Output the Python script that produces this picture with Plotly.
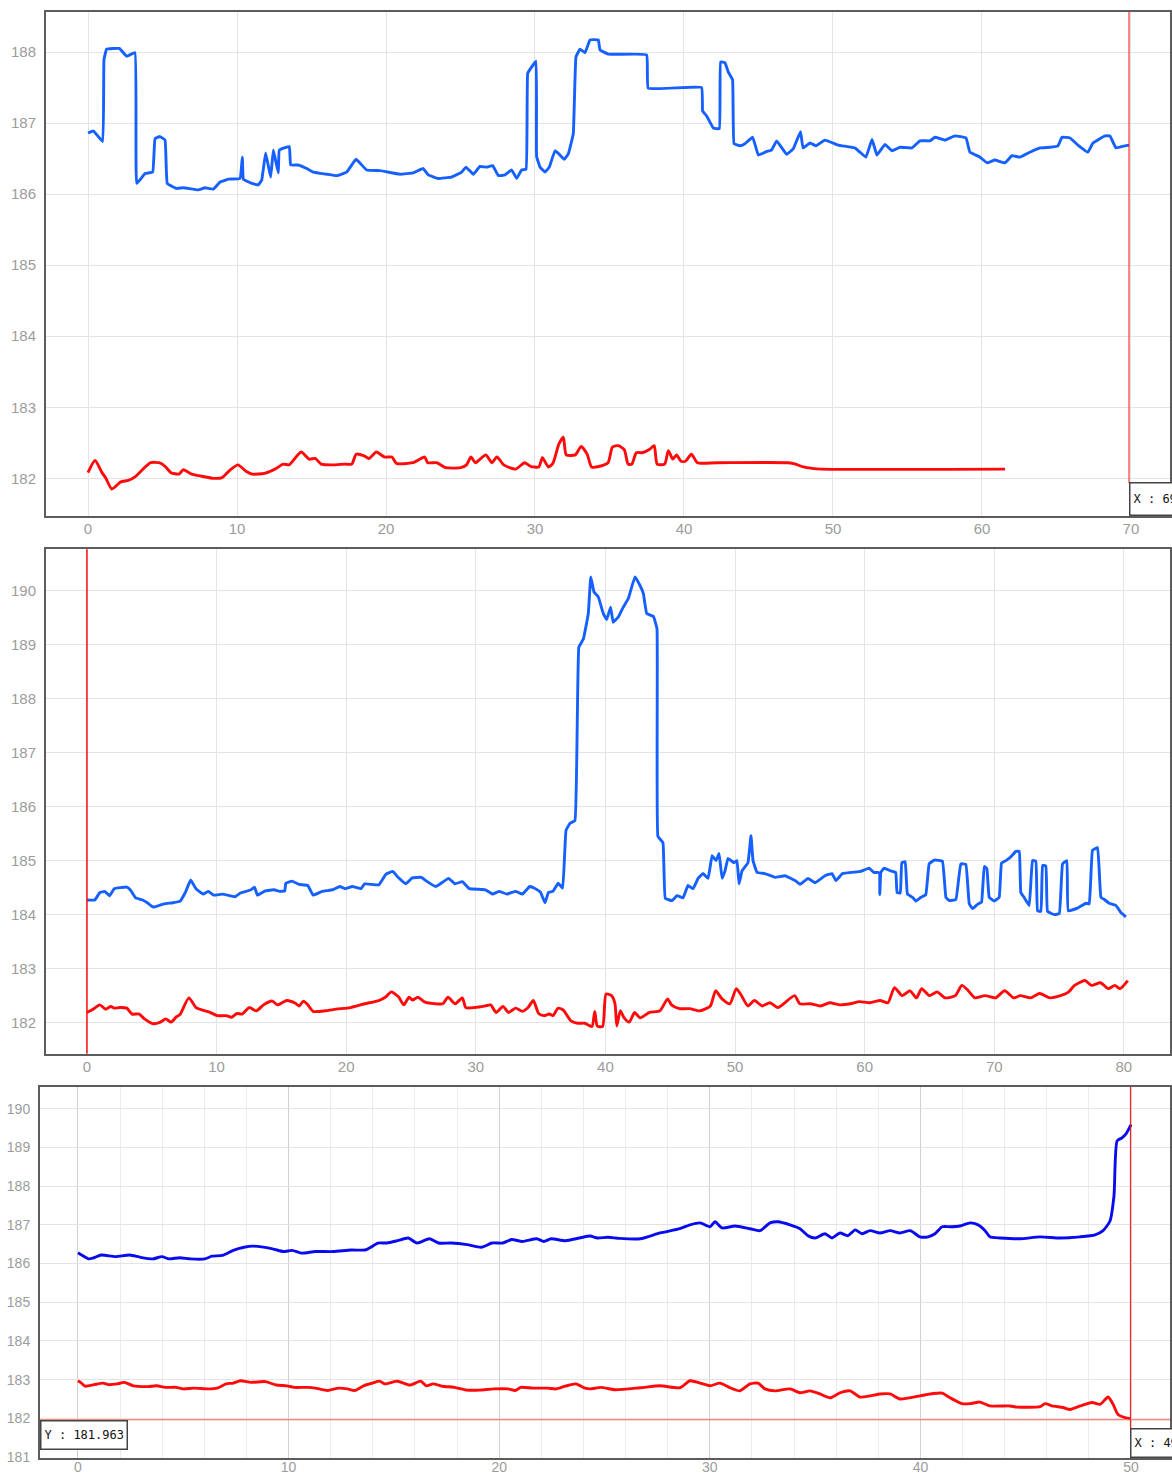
import plotly.graph_objects as go

# ---------------- Panel 1 ----------------
p1_blue_x = [0, 0.36, 0.98, 1.07, 1.25, 2.1, 2.6, 3.15, 3.27, 3.83, 4.34, 4.5, 4.83, 5.17, 5.32, 5.95, 6.4, 7.4, 7.85, 8.41,
             8.86, 9.42, 10.2, 10.36, 10.43, 11.0, 11.43, 11.66, 11.92, 12.26, 12.44, 12.77, 12.84, 13.51, 13.6, 14.1, 14.68,
             15.12, 16.02, 16.69, 17.36, 17.99, 18.7, 19.6, 20.94, 21.83, 22.5, 22.84, 23.5, 24.4, 25.08, 25.37, 25.86, 26.3,
             26.76, 27.16, 27.54, 27.99, 28.43, 28.77, 29.1, 29.4, 29.51, 29.78, 30.07, 30.11, 30.34, 30.67, 30.96, 31.34,
             31.63, 31.97, 32.24, 32.57, 32.75, 33.02, 33.36, 33.69, 34.25, 34.36, 34.92, 37.49, 37.6, 41.18, 41.25, 41.52,
             41.97, 42.37, 42.46, 42.75, 42.97, 43.26, 43.36, 43.76, 44.09, 44.61, 44.99, 45.55, 45.88, 46.22, 46.89, 47.34,
             47.82, 47.99, 48.46, 48.86, 49.46, 50.34, 51.48, 51.81, 52.21, 52.62, 52.95, 53.49, 53.96, 54.5, 55.3, 55.84,
             56.51, 56.85, 57.52, 58.19, 58.93, 59.19, 59.87, 60.34, 60.87, 61.54, 62.01, 62.55, 63.22, 63.89, 64.56, 65.1,
             65.37, 65.91, 66.44, 67.11, 67.45, 68.26, 68.59, 68.99, 69.6, 69.87]
p1_blue_y = [186.86, 186.89, 186.74, 187.89, 188.04, 188.05, 187.94, 187.99, 186.15, 186.29, 186.31, 186.78, 186.81, 186.76,
             186.15, 186.08, 186.09, 186.06, 186.09, 186.07, 186.17, 186.21, 186.22, 186.52, 186.21, 186.15, 186.13, 186.2,
             186.58, 186.24, 186.62, 186.3, 186.62, 186.67, 186.41, 186.41, 186.36, 186.31, 186.28, 186.26, 186.31, 186.49,
             186.34, 186.33, 186.28, 186.3, 186.36, 186.27, 186.22, 186.24, 186.31, 186.38, 186.28, 186.39, 186.38, 186.4,
             186.26, 186.27, 186.34, 186.22, 186.34, 186.35, 187.7, 187.79, 187.87, 186.53, 186.38, 186.31, 186.38, 186.61,
             186.56, 186.49, 186.57, 186.85, 187.93, 188.04, 187.99, 188.17, 188.17, 188.03, 187.97, 187.96, 187.49, 187.5,
             187.17, 187.1, 186.93, 186.92, 187.86, 187.85, 187.72, 187.61, 186.71, 186.68, 186.71, 186.8, 186.55, 186.6,
             186.62, 186.75, 186.56, 186.64, 186.88, 186.65, 186.72, 186.68, 186.76, 186.69, 186.65, 186.59, 186.52, 186.77,
             186.55, 186.7, 186.61, 186.66, 186.65, 186.75, 186.75, 186.8, 186.76, 186.82, 186.79, 186.59, 186.52, 186.44,
             186.48, 186.44, 186.54, 186.52, 186.59, 186.65, 186.66, 186.68, 186.8, 186.79, 186.69, 186.59, 186.72, 186.82,
             186.82, 186.65, 186.68, 186.69]

p1_red_x = [0, 0.47, 0.94, 1.2, 1.6, 2.2, 2.7, 3.15, 3.55, 4.2, 4.76, 5.17, 5.57, 6.1, 6.4, 6.95, 7.63, 8.45, 9.0, 9.55,
            10.07, 10.6, 11.03, 11.85, 12.55, 13.1, 13.5, 14.3, 14.85, 15.25, 15.65, 16.5, 17.2, 17.7, 18.0, 18.5, 18.85,
            19.35, 19.9, 20.4, 20.7, 21.8, 22.6, 22.8, 23.4, 24.0, 25.0, 25.4, 25.7, 26.0, 26.7, 27.1, 27.45, 27.9, 28.7,
            29.3, 29.7, 30.25, 30.5, 30.9, 31.2, 31.6, 31.9, 32.1, 32.7, 33.1, 33.5, 33.8, 34.35, 34.9, 35.2, 35.6, 36.0,
            36.25, 36.5, 36.8, 37.2, 37.7, 38.0, 38.2, 38.7, 38.95, 39.25, 39.5, 39.8, 40.1, 40.5, 40.9, 42.2, 47.0, 47.5,
            48.0, 48.6, 49.2, 61.55]
p1_red_y = [182.08, 182.25, 182.08, 182.0, 181.85, 181.95, 181.97, 182.02, 182.1, 182.22, 182.22, 182.17, 182.08, 182.06,
            182.12, 182.06, 182.03, 182.0, 182.01, 182.12, 182.19, 182.1, 182.06, 182.07, 182.13, 182.2, 182.19, 182.37,
            182.27, 182.28, 182.2, 182.19, 182.2, 182.2, 182.34, 182.32, 182.28, 182.37, 182.3, 182.3, 182.21, 182.22,
            182.3, 182.22, 182.22, 182.15, 182.15, 182.19, 182.3, 182.22, 182.33, 182.22, 182.3, 182.19, 182.13, 182.22,
            182.17, 182.16, 182.29, 182.16, 182.21, 182.48, 182.58, 182.33, 182.33, 182.45, 182.34, 182.16, 182.17, 182.22,
            182.44, 182.46, 182.4, 182.2, 182.2, 182.36, 182.36, 182.41, 182.46, 182.2, 182.2, 182.39, 182.27, 182.33,
            182.24, 182.24, 182.34, 182.22, 182.22, 182.22, 182.2, 182.16, 182.14, 182.13, 182.13]

# ---------------- Panel 2 ----------------
p2_blue_x = [0, 0.6, 1.0, 1.37, 1.75, 2.1, 3.07, 3.34, 3.75, 4.3, 4.71, 5.12, 5.95, 6.63, 7.18, 7.59, 8.0, 8.41, 8.96, 9.37,
             9.78, 10.47, 11.42, 11.84, 12.66, 12.93, 13.15, 13.75, 14.44, 14.85, 15.26, 15.34, 15.81, 16.36, 17.04, 17.45,
             18.14, 18.96, 19.5, 19.92, 20.47, 21.15, 21.42, 22.52, 23.07, 23.6, 24.0, 24.6, 25.1, 25.8, 26.2, 26.9, 27.9,
             28.4, 28.96, 29.5, 30.74, 31.3, 31.8, 32.4, 33.07, 33.6, 34.16, 34.6, 35.0, 35.34, 35.6, 35.95, 36.36, 36.7,
             36.96, 37.27, 37.65, 37.95, 38.3, 38.68, 38.87, 39.12, 39.45, 39.84, 40.1, 40.4, 40.6, 41.0, 41.38, 41.77,
             42.28, 42.67, 42.93, 43.19, 43.7, 43.98, 44.05, 44.44, 44.62, 45.14, 45.52, 45.99, 46.37, 46.76, 47.15, 47.53,
             47.92, 48.23, 48.53, 48.77, 49.0, 49.23, 49.46, 49.92, 50.15, 50.31, 50.54, 51.0, 51.23, 51.39, 51.7, 52.3,
             53.09, 53.86, 54.63, 55.02, 55.63, 56.17, 56.94, 57.48, 57.79, 58.3, 59.7, 60.35, 60.7, 61.13, 61.17, 61.25,
             61.5, 62.0, 62.4, 62.5, 62.75, 62.87, 63.13, 63.3, 63.7, 63.95, 64.34, 64.72, 64.98, 65.37, 66.0, 66.27, 66.52,
             67.04, 67.42, 67.81, 68.07, 68.33, 68.71, 69.02, 69.23, 69.43, 69.61, 70.0, 70.38, 70.56, 70.9, 71.28, 71.67,
             71.93, 72.05, 72.3, 72.7, 72.95, 73.21, 73.34, 73.6, 73.73, 73.98, 74.11, 74.63, 75.02, 75.27, 75.6, 75.71,
             76.43, 77.07, 77.33, 77.58, 77.97, 78.23, 78.49, 78.87, 79.38, 79.77, 80.16]
p2_blue_y = [184.27, 184.27, 184.41, 184.43, 184.35, 184.48, 184.51, 184.46, 184.31, 184.27, 184.21, 184.14, 184.2, 184.22,
             184.25, 184.41, 184.64, 184.48, 184.38, 184.43, 184.36, 184.38, 184.33, 184.4, 184.46, 184.51, 184.36, 184.44,
             184.46, 184.43, 184.44, 184.58, 184.62, 184.56, 184.54, 184.36, 184.43, 184.46, 184.52, 184.48, 184.52, 184.48,
             184.57, 184.55, 184.75, 184.8, 184.69, 184.57, 184.68, 184.69, 184.62, 184.52, 184.67, 184.57, 184.61, 184.48,
             184.46, 184.38, 184.43, 184.38, 184.43, 184.38, 184.52, 184.48, 184.41, 184.22, 184.41, 184.43, 184.58, 184.49,
             185.56, 185.69, 185.74, 188.95, 189.1, 189.57, 190.25, 189.97, 189.88, 189.57, 189.46, 189.69, 189.41, 189.51,
             189.69, 189.85, 190.25, 190.09, 189.94, 189.57, 189.52, 189.29, 185.45, 185.33, 184.3, 184.26, 184.35, 184.31,
             184.54, 184.48, 184.67, 184.76, 184.67, 185.09, 185.0, 185.13, 184.67, 184.81, 185.04, 184.96, 185.0, 184.57,
             184.81, 184.96, 185.46, 185.0, 184.78, 184.76, 184.69, 184.72, 184.63, 184.56, 184.67, 184.59, 184.72, 184.76,
             184.63, 184.76, 184.8, 184.86, 184.78, 184.78, 184.37, 184.78, 184.86, 184.81, 184.78, 184.41, 184.4, 184.96,
             184.98, 184.38, 184.32, 184.25, 184.32, 184.37, 184.94, 185.01, 184.99, 184.32, 184.26, 184.28, 184.94, 184.93,
             184.2, 184.11, 184.19, 184.23, 184.89, 184.85, 184.32, 184.25, 184.32, 184.95, 185.0, 185.07, 185.17, 185.17,
             184.41, 184.32, 184.17, 185.0, 184.99, 184.07, 184.06, 184.91, 184.9, 184.06, 184.0, 184.02, 184.94, 185.0,
             184.07, 184.12, 184.21, 184.2, 185.19, 185.24, 184.32, 184.28, 184.21, 184.17, 184.04, 183.96]

p2_red_x = [0, 0.47, 1.0, 1.42, 1.84, 2.1, 2.52, 3.07, 3.48, 4.03, 4.44, 5.12, 5.67, 6.08, 6.49, 6.9, 7.18, 7.86, 8.41, 8.96,
            9.5, 10.05, 10.74, 11.15, 11.56, 11.97, 12.52, 13.07, 13.62, 14.3, 14.71, 15.4, 16.08, 16.36, 16.71, 17.04,
            17.45, 18.41, 19.23, 20.33, 21.42, 22.52, 23.07, 23.48, 24.03, 24.44, 24.85, 25.12, 25.53, 26.08, 26.9, 27.45,
            27.86, 28.41, 28.96, 29.23, 29.92, 30.74, 31.15, 31.56, 32.1, 32.52, 33.07, 33.6, 34.03, 34.44, 34.85, 35.26,
            35.67, 35.95, 36.36, 36.77, 37.32, 37.86, 38.41, 38.96, 39.18, 39.37, 39.78, 40.05, 40.47, 40.74, 40.88, 41.15,
            41.42, 41.84, 42.25, 42.67, 43.4, 44.2, 44.8, 45.1, 45.7, 46.5, 47.3, 48.1, 48.5, 49.0, 49.6, 50.1, 50.5, 51.0,
            51.5, 52.1, 52.7, 53.3, 54.6, 55.0, 55.8, 56.6, 57.3, 58.1, 58.9, 59.6, 60.4, 61.2, 61.8, 62.3, 62.9, 63.5,
            64.0, 64.4, 65.0, 65.6, 66.2, 67.0, 67.5, 68.0, 68.5, 69.3, 70.1, 70.8, 71.5, 72.0, 72.8, 73.5, 74.3, 75.1,
            75.7, 76.2, 77.0, 77.5, 78.2, 78.8, 79.3, 79.7, 80.3]
p2_red_y = [182.19, 182.25, 182.33, 182.25, 182.3, 182.27, 182.28, 182.27, 182.16, 182.16, 182.07, 181.98, 182.01, 182.07,
            182.01, 182.11, 182.15, 182.46, 182.28, 182.23, 182.19, 182.13, 182.13, 182.1, 182.17, 182.16, 182.28, 182.22,
            182.33, 182.4, 182.33, 182.41, 182.36, 182.31, 182.4, 182.33, 182.21, 182.22, 182.25, 182.28, 182.35, 182.41,
            182.48, 182.57, 182.48, 182.33, 182.47, 182.42, 182.47, 182.38, 182.35, 182.35, 182.47, 182.35, 182.46, 182.28,
            182.28, 182.31, 182.33, 182.19, 182.3, 182.19, 182.27, 182.21, 182.28, 182.41, 182.17, 182.13, 182.16, 182.13,
            182.27, 182.23, 182.04, 181.99, 181.99, 181.93, 182.21, 181.94, 181.93, 182.53, 182.5, 182.35, 181.94, 182.22,
            182.1, 182.01, 182.19, 182.09, 182.19, 182.22, 182.44, 182.33, 182.26, 182.26, 182.22, 182.31, 182.59, 182.44,
            182.35, 182.63, 182.5, 182.31, 182.41, 182.31, 182.37, 182.28, 182.5, 182.35, 182.35, 182.31, 182.37, 182.33,
            182.35, 182.39, 182.37, 182.41, 182.37, 182.65, 182.5, 182.59, 182.46, 182.63, 182.5, 182.57, 182.46, 182.5,
            182.69, 182.59, 182.46, 182.5, 182.46, 182.59, 182.46, 182.5, 182.46, 182.54, 182.46, 182.5, 182.56, 182.69,
            182.78, 182.69, 182.74, 182.63, 182.69, 182.63, 182.78]

# ---------------- Panel 3 ----------------
p3_blue_x = [0, 0.17, 0.51, 0.76, 1.1, 1.78, 2.46, 2.97, 3.56, 3.98, 4.32, 4.83, 5.34, 6.02, 6.36, 6.86, 7.37, 7.88, 8.31,
             9.24, 9.75, 10.17, 10.6, 11.27, 12.12, 12.97, 13.64, 13.9, 14.24, 14.66, 15.17, 15.68, 16.1, 16.69, 17.12,
             17.71, 18.47, 19.15, 19.66, 20.17, 20.59, 21.1, 21.78, 22.12, 22.46, 23.14, 23.81, 24.32, 24.66, 25.17, 25.7,
             26.69, 27.64, 28.58, 29.06, 29.54, 30.01, 30.25, 30.58, 31.2, 31.91, 32.38, 32.86, 33.24, 33.81, 34.28, 34.66,
             35.0, 35.47, 35.8, 36.18, 36.56, 36.9, 37.23, 37.61, 38.08, 38.56, 39.03, 39.51, 39.98, 40.36, 40.69, 41.03,
             41.41, 41.88, 42.36, 42.74, 43.07, 43.3, 43.78, 44.73, 45.68, 46.63, 47.58, 48.29, 48.67, 49.0, 49.19, 49.34,
             49.57, 49.76, 50.0]
p3_blue_y = [186.28, 186.22, 186.12, 186.15, 186.22, 186.18, 186.22, 186.16, 186.12, 186.18, 186.12, 186.15, 186.12, 186.12,
             186.19, 186.21, 186.34, 186.42, 186.45, 186.38, 186.31, 186.34, 186.27, 186.31, 186.31, 186.35, 186.35, 186.42,
             186.53, 186.53, 186.59, 186.66, 186.53, 186.64, 186.53, 186.53, 186.49, 186.42, 186.53, 186.53, 186.62, 186.57,
             186.64, 186.57, 186.64, 186.59, 186.66, 186.71, 186.66, 186.68, 186.65, 186.64, 186.79, 186.9, 187.0, 187.05,
             186.95, 187.08, 186.92, 186.97, 186.9, 186.85, 187.05, 187.08, 187.0, 186.9, 186.72, 186.66, 186.77, 186.66,
             186.79, 186.72, 186.87, 186.77, 186.85, 186.79, 186.85, 186.79, 186.85, 186.69, 186.69, 186.77, 186.95, 186.95,
             186.97, 187.05, 187.0, 186.85, 186.69, 186.66, 186.64, 186.69, 186.66, 186.69, 186.74, 186.85, 187.1, 187.75,
             189.17, 189.25, 189.35, 189.59]

p3_red_x = [0, 0.12, 0.34, 0.76, 1.19, 1.44, 1.86, 2.2, 2.63, 3.31, 3.73, 4.15, 4.66, 5.0, 5.51, 6.19, 6.61, 7.03, 7.37,
            7.71, 8.22, 8.9, 9.41, 9.92, 10.25, 10.93, 11.27, 11.86, 12.37, 12.8, 13.14, 13.56, 13.98, 14.32, 14.58, 15.17,
            15.76, 16.27, 16.53, 16.86, 17.29, 17.88, 18.47, 19.07, 19.75, 20.42, 20.76, 21.02, 21.61, 22.29, 22.71, 23.14,
            23.64, 24.07, 24.32, 24.83, 25.5, 26.69, 27.64, 28.58, 29.06, 29.54, 30.01, 30.48, 30.96, 31.43, 31.91, 32.29,
            32.62, 33.1, 33.81, 34.28, 34.76, 35.23, 35.71, 36.18, 36.66, 37.13, 37.61, 38.08, 38.56, 39.03, 39.98, 40.6,
            41.03, 41.41, 41.97, 42.36, 42.83, 43.3, 44.25, 44.59, 45.68, 45.92, 46.25, 46.77, 47.1, 47.58, 48.15, 48.53,
            48.91, 49.15, 49.38, 49.72, 49.97]
p3_red_y = [182.97, 182.93, 182.83, 182.87, 182.91, 182.87, 182.89, 182.93, 182.84, 182.82, 182.84, 182.8, 182.8, 182.76,
            182.78, 182.76, 182.78, 182.89, 182.91, 182.97, 182.93, 182.95, 182.86, 182.84, 182.8, 182.8, 182.78, 182.72,
            182.78, 182.76, 182.72, 182.84, 182.91, 182.96, 182.89, 182.96, 182.86, 182.96, 182.84, 182.89, 182.83, 182.8,
            182.73, 182.73, 182.76, 182.76, 182.72, 182.8, 182.78, 182.78, 182.76, 182.83, 182.89, 182.78, 182.76, 182.8,
            182.74, 182.79, 182.84, 182.79, 182.97, 182.91, 182.84, 182.91, 182.79, 182.71, 182.89, 182.91, 182.76, 182.71,
            182.76, 182.66, 182.71, 182.63, 182.53, 182.66, 182.71, 182.55, 182.58, 182.63, 182.63, 182.5, 182.58, 182.64,
            182.65, 182.53, 182.38, 182.38, 182.42, 182.32, 182.32, 182.29, 182.3, 182.38, 182.32, 182.28, 182.23, 182.32,
            182.41, 182.36, 182.55, 182.36, 182.1, 182.02, 181.99]

# cursors
p1_cursor_x = 69.87
p1_cursor_label = "X : 69.87"
p2_cursor_x = 0.0
p3_cursor_x = 49.97
p3_cursor_y = 181.963
p3_cursor_xlabel = "X : 49.97"
p3_cursor_ylabel = "Y : 181.963"

W = 1172
H_REF = 1473      # reference picture height (layout is designed in its pixels)
H_FIG = 1481      # figure height (the page is photographed slightly scaled)


def px_x(p):
    return p / W


def px_y(p):
    return 1 - p / H_REF


BLUE = "#1560ff"
DARKBLUE = "#0a0aef"
RED = "#ff0a0a"
FRAME = "#5c5c5c"
GRID = "#e4e4e4"
TICKC = "#9c9c9c"
LW = 2.9

fig = go.Figure()


def add_line(x, y, color, xa, ya, smooth):
    fig.add_trace(go.Scatter(x=x, y=y, mode="lines", xaxis=xa, yaxis=ya,
                             line=dict(color=color, width=LW, shape="spline", smoothing=smooth)))


add_line(p1_blue_x, p1_blue_y, BLUE, "x", "y", 0.25)
add_line(p1_red_x, p1_red_y, RED, "x", "y", 0.6)
add_line(p2_blue_x, p2_blue_y, BLUE, "x2", "y2", 0.25)
add_line(p2_red_x, p2_red_y, RED, "x2", "y2", 0.6)
add_line(p3_blue_x, p3_blue_y, DARKBLUE, "x3", "y3", 0.6)
add_line(p3_red_x, p3_red_y, RED, "x3", "y3", 0.6)

tickfont_big = dict(family="Liberation Sans, Arial, sans-serif", size=15, color=TICKC)
tickfont_small = dict(family="Liberation Sans, Arial, sans-serif", size=14, color=TICKC)


def xaxis(domain, rng, anchor, font, standoff, minor=False):
    d = dict(domain=domain, range=rng, anchor=anchor, dtick=10, tick0=0, showgrid=True, gridcolor=GRID,
             gridwidth=1, zeroline=False, showline=True, linecolor=FRAME, linewidth=2, mirror=True,
             ticks="", ticklabelstandoff=standoff, tickfont=font, fixedrange=True)
    if minor:
        d["gridcolor"] = "#cfcfcf"
        d["minor"] = dict(dtick=2, tick0=0, showgrid=True, gridcolor="#ebebeb", gridwidth=1)
    return d


def yaxis(domain, rng, anchor, font):
    return dict(domain=domain, range=rng, anchor=anchor, dtick=1, tick0=0, showgrid=True, gridcolor=GRID,
                gridwidth=1, zeroline=False, showline=True, linecolor=FRAME, linewidth=2, mirror=True,
                ticks="outside", ticklen=5, tickcolor="rgba(0,0,0,0)", tickfont=font, fixedrange=True)


fig.update_layout(
    width=W, height=H_FIG, margin=dict(l=0, r=0, t=0, b=0), autosize=False,
    paper_bgcolor="white", plot_bgcolor="white", showlegend=False,
    xaxis=xaxis([px_x(46), px_x(1170)], [-2.82, 72.62], "y", tickfont_big, -2),
    yaxis=yaxis([px_y(516), px_y(12)], [181.465, 188.563], "x", tickfont_big),
    xaxis2=xaxis([px_x(46), px_x(1170)], [-3.16, 83.56], "y2", tickfont_big, -2),
    yaxis2=yaxis([px_y(1053), px_y(549)], [181.426, 190.759], "x2", tickfont_big),
    xaxis3=xaxis([px_x(40), px_x(1170)], [-1.804, 51.85], "y3", tickfont_small, -5, minor=True),
    yaxis3=yaxis([px_y(1457), px_y(1086)], [180.975, 190.569], "x3", tickfont_small),
)

# cursor lines
fig.add_shape(type="line", xref="x", yref="paper", x0=p1_cursor_x, x1=p1_cursor_x, y0=px_y(483), y1=px_y(12),
              line=dict(color=RED, width=1))
fig.add_shape(type="line", xref="x2", yref="paper", x0=p2_cursor_x, x1=p2_cursor_x, y0=px_y(1053), y1=px_y(549),
              line=dict(color=RED, width=1.5))
fig.add_shape(type="line", xref="x3", yref="paper", x0=p3_cursor_x, x1=p3_cursor_x, y0=px_y(1428), y1=px_y(1086),
              line=dict(color=RED, width=1))
fig.add_shape(type="line", xref="paper", yref="y3", x0=px_x(40), x1=px_x(1170), y0=p3_cursor_y, y1=p3_cursor_y,
              line=dict(color="#ff5a5a", width=1.2))

boxfont = dict(family="DejaVu Sans Mono, monospace", size=12, color="#111111")
fig.add_annotation(xref="x", yref="paper", x=p1_cursor_x, y=px_y(516), xanchor="left", yanchor="bottom",
                   text=p1_cursor_label, showarrow=False, align="left", font=boxfont, bgcolor="white",
                   bordercolor="#444444", borderwidth=1.5, borderpad=3, width=80, height=25)
fig.add_annotation(xref="x3", yref="paper", x=p3_cursor_x, y=px_y(1457), xanchor="left", yanchor="bottom",
                   text=p3_cursor_xlabel, showarrow=False, align="left", font=boxfont, bgcolor="white",
                   bordercolor="#444444", borderwidth=1.5, borderpad=3, width=80, height=21)
fig.add_annotation(xref="paper", yref="y3", x=px_x(40), y=p3_cursor_y, xanchor="left", yanchor="top",
                   text=p3_cursor_ylabel, showarrow=False, align="left", font=boxfont, bgcolor="white",
                   bordercolor="#444444", borderwidth=1.5, borderpad=3, width=79, height=21)

fig.write_html("out.html")
